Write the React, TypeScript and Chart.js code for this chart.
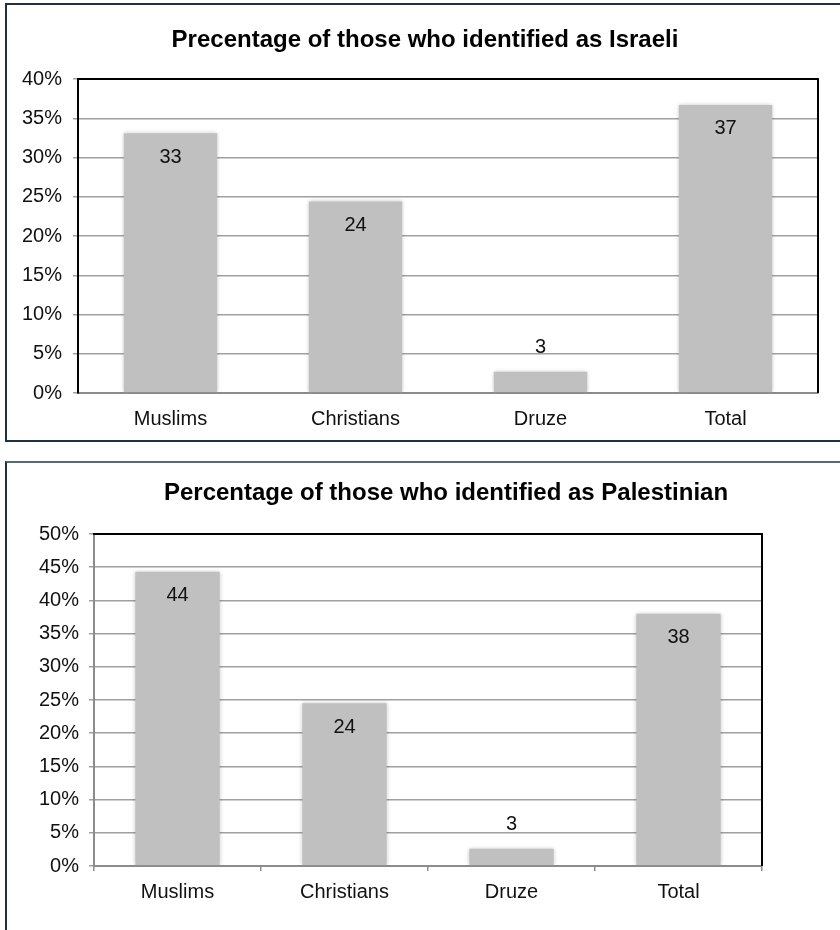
import React, { useEffect, useRef } from "react";
import { Chart, registerables } from "chart.js";

Chart.register(...registerables);

const categories = ["Muslims", "Christians", "Druze", "Total"];
const israeliValues = [33.1, 24.4, 2.7, 36.7];
const israeliLabels = ["33", "24", "3", "37"];
const palestinianValues = [44.3, 24.5, 2.6, 38.0];
const palestinianLabels = ["44", "24", "3", "38"];
const israeliMax = 40;
const palestinianMax = 50;
const tickStep = 5;
const israeliTitle = "Precentage of those who identified as Israeli";
const palestinianTitle = "Percentage of those who identified as Palestinian";

const FONT = "'Liberation Sans', Arial, Helvetica, sans-serif";

type Props = {
  title: string;
  values: number[];
  labels: string[];
  max: number;
  width: number;
  height: number;
  top: number;
  padTop: number;
  padRight: number;
  yWidth: number;
  xHeight: number;
  yAxisColor: string;
  xTicks: boolean;
  xPad: number;
  yPad: number;
  titleX: number;
  titleBaseline: number;
};

function BarChart(p: Props) {
  const ref = useRef<HTMLCanvasElement | null>(null);
  useEffect(() => {
    if (!ref.current) return;
    const overlay = {
      id: "overlay",
      beforeDatasetsDraw(chart: any) {
        const ctx = chart.ctx;
        ctx.save();
        ctx.shadowColor = "rgba(0,0,0,0.22)";
        ctx.shadowBlur = 4;
        ctx.shadowOffsetX = 0;
        ctx.shadowOffsetY = 0;
      },
      afterDatasetsDraw(chart: any) {
        chart.ctx.restore();
      },
      afterDraw(chart: any) {
        const ctx = chart.ctx;
        const a = chart.chartArea;
        ctx.save();
        ctx.strokeStyle = "#000";
        ctx.lineWidth = 2;
        ctx.beginPath();
        ctx.moveTo(a.left - 1, a.top);
        ctx.lineTo(a.right, a.top);
        ctx.lineTo(a.right, a.bottom);
        ctx.stroke();

        ctx.font = `bold 24px ${FONT}`;
        ctx.fillStyle = "#000";
        ctx.textAlign = "center";
        ctx.textBaseline = "alphabetic";
        ctx.fillText(p.title, p.titleX, p.titleBaseline);

        const meta = chart.getDatasetMeta(0);
        ctx.font = `20px ${FONT}`;
        ctx.fillStyle = "#111";
        ctx.textBaseline = "middle";
        meta.data.forEach((bar: any, i: number) => {
          const v = p.values[i];
          const y = v >= 10 ? bar.y + 24 : bar.y - 24;
          ctx.fillText(p.labels[i], bar.x, y);
        });
        ctx.restore();
      },
    };
    const chart = new Chart(ref.current, {
      type: "bar",
      data: {
        labels: categories,
        datasets: [
          {
            data: p.values,
            backgroundColor: "#c0c0c0",
            borderWidth: 0,
            categoryPercentage: 1,
            barPercentage: 0.505,
          },
        ],
      },
      options: {
        responsive: false,
        animation: false,
        devicePixelRatio: 1,
        layout: { padding: { top: p.padTop, right: p.padRight, left: 0, bottom: 0 } },
        plugins: {
          legend: { display: false },
          title: { display: false },
          tooltip: { enabled: false },
        },
        scales: {
          x: {
            grid: {
              display: true,
              drawOnChartArea: false,
              drawTicks: p.xTicks,
              tickLength: 5,
              offset: true,
              color: "#8c8c8c",
              lineWidth: 1.5,
            },
            border: { color: "#8c8c8c", width: 2 },
            ticks: { font: { size: 20, family: FONT }, color: "#111", padding: p.xPad },
            afterFit: (s: any) => {
              s.height = p.xHeight;
            },
          },
          y: {
            min: 0,
            max: p.max,
            ticks: {
              stepSize: tickStep,
              callback: (v: any) => v + "%",
              font: { size: 20, family: FONT },
              color: "#111",
              padding: p.yPad,
            },
            grid: { color: "#a0a0a0", lineWidth: 1.5, tickLength: 5, drawTicks: true },
            border: { color: p.yAxisColor, width: 2 },
            afterFit: (s: any) => {
              s.width = p.yWidth;
            },
          },
        },
      },
      plugins: [overlay],
    });
    return () => chart.destroy();
  }, []);
  return (
    <canvas
      ref={ref}
      width={p.width}
      height={p.height}
      style={{ position: "absolute", left: 0, top: p.top, width: p.width, height: p.height }}
    />
  );
}

export default function App() {
  return (
    <div
      style={{
        position: "fixed",
        left: 0,
        top: 0,
        width: 840,
        height: 930,
        overflow: "hidden",
        background: "#fff",
      }}
    >
      <div
        style={{
          position: "absolute",
          left: 5,
          top: 3,
          width: 1000,
          height: 439,
          boxSizing: "border-box",
          border: "2px solid #1d3147",
        }}
      />
      <div
        style={{
          position: "absolute",
          left: 5,
          top: 461,
          width: 1000,
          height: 1000,
          boxSizing: "border-box",
          borderTop: "2px solid #566a7c",
          borderLeft: "2px solid #1d3147",
        }}
      />
      <BarChart
        title={israeliTitle}
        values={israeliValues}
        labels={israeliLabels}
        max={israeliMax}
        width={840}
        height={441}
        top={0}
        padTop={79}
        padRight={22}
        yWidth={78}
        xHeight={48}
        yAxisColor="#000"
        xTicks={false}
        xPad={14}
        yPad={11}
        titleX={425}
        titleBaseline={47}
      />
      <BarChart
        title={palestinianTitle}
        values={palestinianValues}
        labels={palestinianLabels}
        max={palestinianMax}
        width={840}
        height={468}
        top={462}
        padTop={72}
        padRight={78}
        yWidth={94}
        xHeight={64}
        yAxisColor="#8c8c8c"
        xTicks={true}
        xPad={9}
        yPad={10}
        titleX={446}
        titleBaseline={38}
      />
    </div>
  );
}
